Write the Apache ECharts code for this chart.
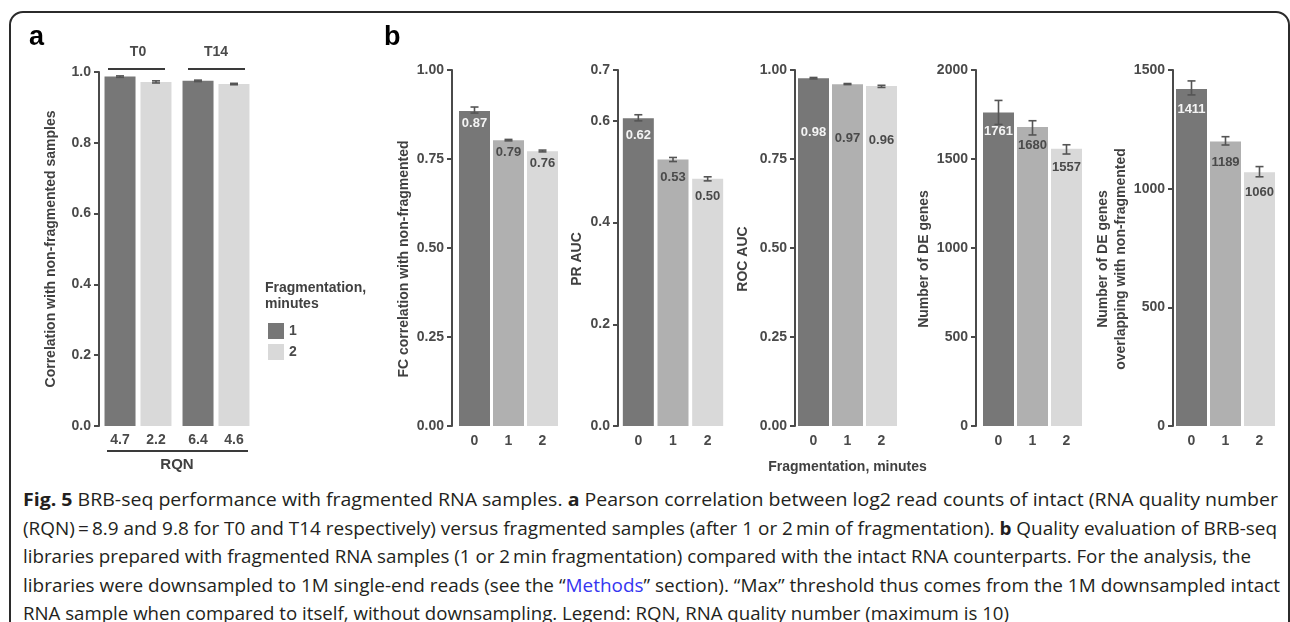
<!DOCTYPE html>
<html>
<head>
<meta charset="utf-8">
<title>Fig. 5 BRB-seq performance with fragmented RNA samples</title>
<script src="https://cdn.jsdelivr.net/npm/echarts@6/dist/echarts.min.js"></script>
<style>
  body { margin: 0; padding: 0; background: #fff; }
  #page { position: relative; width: 1290px; height: 622px; overflow: hidden; }
  #frame { position: absolute; left: 9px; top: 11px; width: 1281px; height: 760px;
           border: 2px solid #2b2b2b; border-radius: 14px; box-sizing: border-box; }
  #chart { position: absolute; left: 0; top: 0; width: 1290px; height: 480px; }
  #caption { position: absolute; left: 23px; top: 485px; font-family: "Open Sans"; font-size: 18px;
             line-height: 28.5px; color: #231f20; white-space: nowrap; }
  #caption .ln { display: block; height: 28.5px; }
  #caption .tx { display: inline-block; transform-origin: 0 0; }
  #caption .lnk { color: #3535f0; }
</style>
</head>
<body>
<div id="page">
  <div id="frame"></div>
  <div id="chart"></div>
  <div id="caption">
    <div class="ln"><span class="tx"><b>Fig. 5</b> BRB-seq performance with fragmented RNA samples. <b>a</b> Pearson correlation between log2 read counts of intact (RNA quality number</span></div>
    <div class="ln"><span class="tx">(RQN)&thinsp;=&thinsp;8.9 and 9.8 for T0 and T14 respectively) versus fragmented samples (after 1 or 2&thinsp;min of fragmentation). <b>b</b> Quality evaluation of BRB-seq</span></div>
    <div class="ln"><span class="tx">libraries prepared with fragmented RNA samples (1 or 2&thinsp;min fragmentation) compared with the intact RNA counterparts. For the analysis, the</span></div>
    <div class="ln"><span class="tx">libraries were downsampled to 1M single-end reads (see the “<span class="lnk">Methods</span>” section). “Max” threshold thus comes from the 1M downsampled intact</span></div>
    <div class="ln"><span class="tx">RNA sample when compared to itself, without downsampling. Legend: RQN, RNA quality number (maximum is 10)</span></div>
  </div>
</div>
<script type="text/javascript">
// panel a: correlation with non-fragmented samples
var groups = ['T0', 'T14'];
var corrMin1 = [0.987, 0.975];
var corrMin2 = [0.972, 0.966];
var corrLow1 = [0.985, 0.973];
var corrHigh1 = [0.989, 0.977];
var corrLow2 = [0.969, 0.964];
var corrHigh2 = [0.975, 0.968];
var rqnMin1 = ['4.7', '6.4'];
var rqnMin2 = ['2.2', '4.6'];

// panel b: fragmentation minutes 0, 1, 2
var minutes = ['0', '1', '2'];
var fcCorr = [0.885, 0.803, 0.772];
var fcLow = [0.879, 0.801, 0.770];
var fcHigh = [0.896, 0.805, 0.775];
var fcText = ['0.87', '0.79', '0.76'];

var prAuc = [0.605, 0.524, 0.486];
var prLow = [0.600, 0.520, 0.482];
var prHigh = [0.612, 0.528, 0.490];
var prText = ['0.62', '0.53', '0.50'];

var rocAuc = [0.977, 0.960, 0.955];
var rocLow = [0.975, 0.959, 0.951];
var rocHigh = [0.979, 0.962, 0.957];
var rocText = ['0.98', '0.97', '0.96'];

var deGenes = [1761, 1680, 1557];
var deLow = [1694, 1635, 1528];
var deHigh = [1829, 1715, 1580];
var deText = ['1761', '1680', '1557'];

var deOverlap = [1420, 1199, 1069];
var ovLow = [1395, 1184, 1050];
var ovHigh = [1454, 1219, 1093];
var ovText = ['1411', '1189', '1060'];

var FONT = '"Liberation Sans", Arial, sans-serif';
var INK = '#4a4a4a';
var fills = ['#777777', '#b0b0b0', '#d9d9d9'];

var subplots = [
  { vals: fcCorr, low: fcLow, high: fcHigh, text: fcText, name: 'FC correlation with non-fragmented',
    left: 457.5, width: 102, offset: 5.5, max: 1, interval: 0.25, dec: 2, gap: 38, dist: 6 },
  { vals: prAuc, low: prLow, high: prHigh, text: prText, name: 'PR AUC',
    left: 621, width: 104, offset: 3, max: 0.7, interval: 0.2, dec: 1, gap: 31, dist: 11 },
  { vals: rocAuc, low: rocLow, high: rocHigh, text: rocText, name: 'ROC AUC',
    left: 796.5, width: 102, offset: 1.5, max: 1, interval: 0.25, dec: 2, gap: 43, dist: 48 },
  { vals: deGenes, low: deLow, high: deHigh, text: deText, name: 'Number of DE genes',
    left: 981.5, width: 102, offset: 5.5, max: 2000, interval: 500, dec: 0, gap: 43, dist: 12 },
  { vals: deOverlap, low: ovLow, high: ovHigh, text: ovText, name: 'Number of DE genes\noverlapping with non-fragmented',
    left: 1174.5, width: 102, offset: 1.5, max: 1500, interval: 500, dec: 0, gap: 43, dist: 14 }
];

function errRender(shift) {
  return function (params, api) {
    var lo = api.coord([api.value(0), api.value(1)]);
    var hi = api.coord([api.value(0), api.value(2)]);
    var cx = lo[0] + shift, w = 4;
    var st = { stroke: '#555', lineWidth: 1.6 };
    return { type: 'group', children: [
      { type: 'line', shape: { x1: cx, y1: lo[1], x2: cx, y2: hi[1] }, style: st },
      { type: 'line', shape: { x1: cx - w, y1: lo[1], x2: cx + w, y2: lo[1] }, style: st },
      { type: 'line', shape: { x1: cx - w, y1: hi[1], x2: cx + w, y2: hi[1] }, style: st }
    ] };
  };
}

function yAxisStyle(extra) {
  var base = {
    type: 'value', min: 0,
    nameLocation: 'middle',
    nameTextStyle: { fontFamily: FONT, fontWeight: 'bold', fontSize: 14, color: '#404040', lineHeight: 18 },
    axisLine: { show: true, lineStyle: { color: INK, width: 2 } },
    axisTick: { show: true, length: 5, lineStyle: { color: INK, width: 2 } },
    axisLabel: { margin: 8, fontFamily: FONT, fontWeight: 'bold', fontSize: 14, color: INK },
    splitLine: { show: false }
  };
  for (var k in extra) base[k] = extra[k];
  return base;
}

function xCatStyle(extra) {
  var base = {
    type: 'category',
    axisLine: { show: false }, axisTick: { show: false },
    axisLabel: { margin: 8, fontFamily: FONT, fontWeight: 'bold', fontSize: 14, color: INK },
    nameLocation: 'middle',
    nameTextStyle: { fontFamily: FONT, fontWeight: 'bold', fontSize: 14, color: '#404040' }
  };
  for (var k in extra) base[k] = extra[k];
  return base;
}

var grid = [{ left: 99, width: 156, top: 72, bottom: 54 }];
var xAxis = [
  xCatStyle({ gridIndex: 0, data: groups, axisLabel: { show: false }, name: 'RQN', nameGap: 31,
              nameTextStyle: { fontFamily: FONT, fontWeight: 'bold', fontSize: 15, color: '#404040' } }),
  xCatStyle({ gridIndex: 0, data: groups, position: 'top',
              axisLabel: { margin: 13, fontFamily: FONT, fontWeight: 'bold', fontSize: 14, color: INK } })
];
var yAxis = [
  yAxisStyle({ gridIndex: 0, max: 1, interval: 0.2, name: 'Correlation with non-fragmented samples', nameGap: 39,
    axisLabel: { margin: 8, fontFamily: FONT, fontWeight: 'bold', fontSize: 14, color: INK,
                 formatter: function (v) { return v.toFixed(1); } } })
];

var labelBase = { fontFamily: FONT, fontWeight: 'bold', fontSize: 14, color: INK };
var series = [
  { type: 'bar', name: '1', xAxisIndex: 0, yAxisIndex: 0, barWidth: 31, barGap: '16%',
    itemStyle: { color: fills[0] }, data: corrMin1,
    label: Object.assign({ show: true, position: 'bottom', distance: 7,
      formatter: function (p) { return rqnMin1[p.dataIndex]; } }, labelBase) },
  { type: 'bar', name: '2', xAxisIndex: 0, yAxisIndex: 0, barWidth: 31, barGap: '16%',
    itemStyle: { color: fills[2] }, data: corrMin2,
    label: Object.assign({ show: true, position: 'bottom', distance: 7,
      formatter: function (p) { return rqnMin2[p.dataIndex]; } }, labelBase) },
  { type: 'custom', xAxisIndex: 0, yAxisIndex: 0, renderItem: errRender(-18), z: 10,
    encode: { x: 0, y: [1, 2] }, data: corrLow1.map(function (l, k) { return [k, l, corrHigh1[k]]; }) },
  { type: 'custom', xAxisIndex: 0, yAxisIndex: 0, renderItem: errRender(18), z: 10,
    encode: { x: 0, y: [1, 2] }, data: corrLow2.map(function (l, k) { return [k, l, corrHigh2[k]]; }) }
];

subplots.forEach(function (p, i) {
  var gi = i + 1, xi = i + 2;
  grid.push({ left: p.left, width: p.width, top: 70, bottom: 54 });
  xAxis.push(xCatStyle({ gridIndex: gi, data: minutes }));
  yAxis.push(yAxisStyle({ gridIndex: gi, max: p.max, interval: p.interval, offset: p.offset,
    name: p.name, nameGap: p.gap,
    nameTextStyle: { fontFamily: FONT, fontWeight: 'bold', fontSize: 14, color: '#404040', lineHeight: 18,
                     padding: [0, 22, 0, 0] },
    axisLabel: { margin: 8, fontFamily: FONT, fontWeight: 'bold', fontSize: 14, color: INK,
                 formatter: function (v) { return v.toFixed(p.dec); } } }));
  series.push({
    type: 'bar', xAxisIndex: xi, yAxisIndex: gi, barWidth: 31,
    data: p.vals.map(function (v, k) {
      return { value: v, itemStyle: { color: fills[k] }, label: { color: k === 0 ? '#f4f4f4' : INK } };
    }),
    label: { show: true, position: 'insideTop', distance: p.dist, fontFamily: FONT, fontWeight: 'bold',
             fontSize: 13, formatter: function (q) { return p.text[q.dataIndex]; } }
  });
  series.push({
    type: 'custom', xAxisIndex: xi, yAxisIndex: gi, renderItem: errRender(0), z: 10,
    encode: { x: 0, y: [1, 2] }, data: p.low.map(function (l, k) { return [k, l, p.high[k]]; })
  });
});

// shared x title sits under the middle panel of b
xAxis[4].name = 'Fragmentation, minutes';
xAxis[4].nameGap = 34;

var deco = { stroke: '#3a3a3a', lineWidth: 2 };
var option = {
  animation: false,
  grid: grid, xAxis: xAxis, yAxis: yAxis, series: series,
  legend: { data: ['1', '2'], orient: 'vertical', left: 268, top: 323, itemWidth: 16, itemHeight: 16,
            itemGap: 5, icon: 'rect', selectedMode: false, padding: 0,
            textStyle: { fontFamily: FONT, fontWeight: 'bold', fontSize: 14, color: INK } },
  graphic: [
    { type: 'text', x: 29, y: 38, style: { text: 'a', font: 'bold 27px "Liberation Sans"', fill: '#000', verticalAlign: 'middle' } },
    { type: 'text', x: 384, y: 38, style: { text: 'b', font: 'bold 27px "Liberation Sans"', fill: '#000', verticalAlign: 'middle' } },
    { type: 'text', x: 265, y: 280, style: { text: 'Fragmentation,\nminutes', font: 'bold 14px "Liberation Sans"',
      fill: '#404040', lineHeight: 16 } },
    { type: 'line', shape: { x1: 108, y1: 69, x2: 165, y2: 69 }, style: deco },
    { type: 'line', shape: { x1: 188, y1: 69, x2: 245, y2: 69 }, style: deco },
    { type: 'line', shape: { x1: 107, y1: 451, x2: 248, y2: 451 }, style: deco }
  ]
};

var chart = echarts.init(document.getElementById('chart'), null, { renderer: 'canvas' });
chart.setOption(option);

// fit each caption line to the width it has in the printed figure
var lineWidths = [1255, 1254, 1228, 1257, 986];
var lines = document.querySelectorAll('#caption .tx');
for (var n = 0; n < lines.length; n++) {
  var w = lines[n].getBoundingClientRect().width;
  lines[n].style.transform = 'scaleX(' + (lineWidths[n] / w) + ')';
}
</script>
</body>
</html>
